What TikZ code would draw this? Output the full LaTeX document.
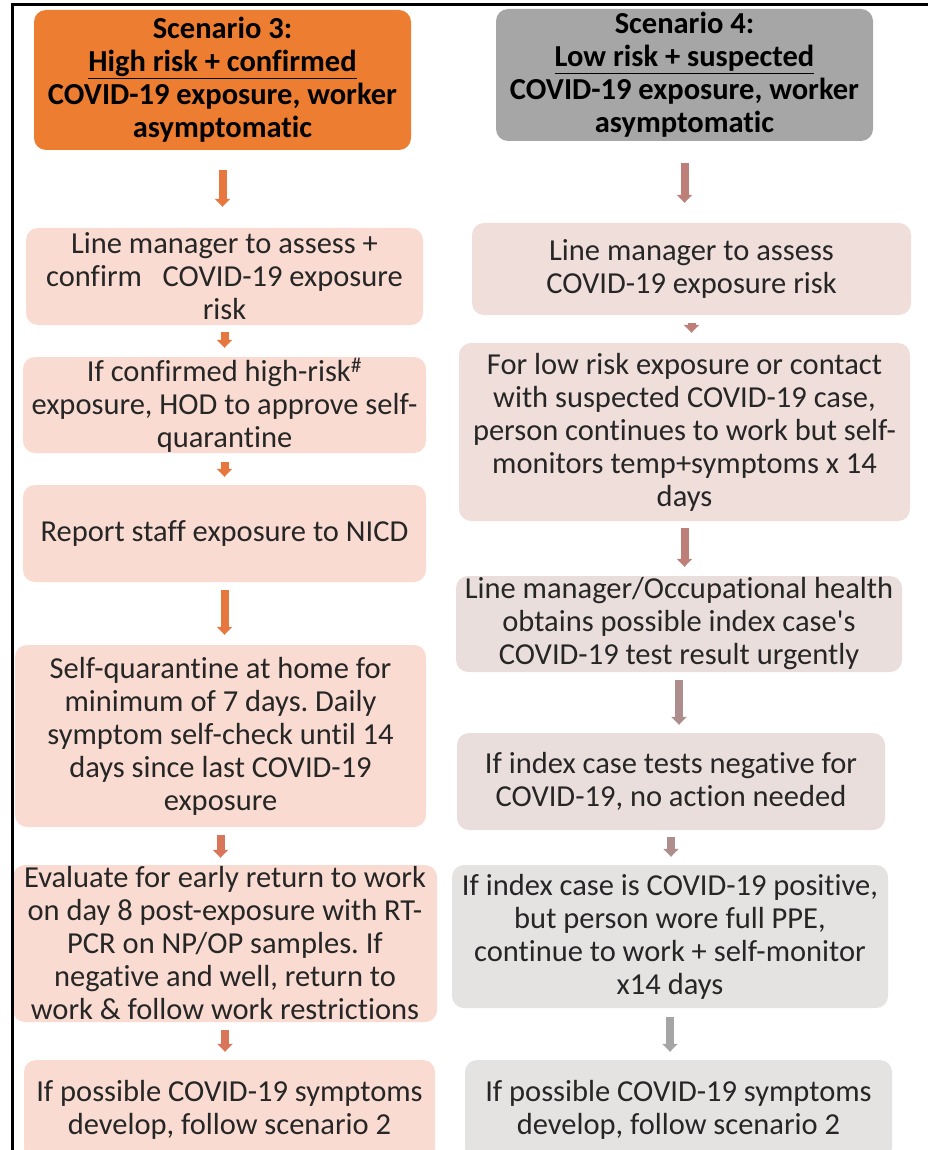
\documentclass[tikz,border=0pt]{standalone}
\usepackage{fontspec}
\setmainfont{Carlito}[Ligatures={NoCommon}]
\usetikzlibrary{arrows.meta}
\frenchspacing

\definecolor{hdrorange}{HTML}{ED7D31}
\definecolor{hdrgray}{HTML}{A6A6A6}
\definecolor{boxpink}{HTML}{F9DBD1}
\definecolor{boxrose}{HTML}{EFDEDA}
\definecolor{boxmauve}{HTML}{EADEDD}
\definecolor{boxgray}{HTML}{E5E2E2}
\definecolor{arrorange}{HTML}{E7773E}
\definecolor{arrsalmon}{HTML}{D9765A}
\definecolor{arrrose}{HTML}{BE7F79}
\definecolor{arrmauve}{HTML}{AE8E8D}
\definecolor{arrgray}{HTML}{A5A5A5}
\definecolor{textgray}{HTML}{262626}

\begin{document}
\begin{tikzpicture}[x=1pt,y=-1pt,
	box/.style={rounded corners=12pt, align=center, inner sep=0pt, text=textgray, font=\fontsize{30.5}{33}\selectfont},
	hdr/.style={box, text=black, font=\fontsize{30.5}{33}\selectfont\bfseries},
	flow/.style={line width=8pt, line cap=butt, -{Triangle[length=8pt,width=15pt]}}]
	\useasboundingbox (0,0) rectangle (928,1150);

	% scenario 3
	\node[hdr,fill=hdrorange,minimum width=377pt,minimum height=140pt] (s3)  at (222.5, 80)    {Scenario 3:\\ \underline{High risk + confirmed}\\ COVID-19 exposure, worker\\ asymptomatic};
	\node[box,fill=boxpink,minimum width=397pt,minimum height=97pt]    (s3a) at (224.5, 276.5)  {Line manager to assess +\\ confirm~~~COVID-19 exposure\\ risk};
	\node[box,fill=boxpink,minimum width=403pt,minimum height=96pt]    (s3b) at (224.5, 405)    {If confirmed high-risk\textsuperscript{\#}\\ exposure, HOD to approve self-\\ quarantine};
	\node[box,fill=boxpink,minimum width=403pt,minimum height=97pt]    (s3c) at (224.5, 533.5)  {Report staff exposure to NICD};
	\node[box,fill=boxpink,minimum width=411pt,minimum height=182pt]   (s3d) at (220.5, 736)    {Self-quarantine at home for\\ minimum of 7 days. Daily\\ symptom self-check until 14\\ days since last COVID-19\\ exposure};
	\node[box,fill=boxpink,minimum width=424pt,minimum height=157pt]   (s3e) at (225, 943.5)    {Evaluate for early return to work\\ on day 8 post-exposure with RT-\\ PCR on NP/OP samples. If\\ negative and well, return to\\ work \& follow work restrictions};
	\node[box,fill=boxpink,minimum width=411pt,minimum height=100pt]   (s3f) at (229.5, 1110)   {If possible COVID-19 symptoms\\ develop, follow scenario 2};

	% scenario 4
	\node[hdr,fill=hdrgray,minimum width=377pt,minimum height=132pt]   (s4)  at (684.5, 75)     {Scenario 4:\\ \underline{Low risk + suspected}\\ COVID-19 exposure, worker\\ asymptomatic};
	\node[box,fill=boxrose,minimum width=439pt,minimum height=92pt]    (s4a) at (691.5, 269)    {Line manager to assess\\ COVID-19 exposure risk};
	\node[box,fill=boxrose,minimum width=451pt,minimum height=178pt]   (s4b) at (684.5, 432)    {For low risk exposure or contact\\ with suspected COVID-19 case,\\ person continues to work but self-\\ monitors temp+symptoms x 14\\ days};
	\node[box,fill=boxmauve,minimum width=446pt,minimum height=96pt]   (s4c) at (679, 624)      {Line manager/Occupational health\\ obtains possible index case\textquotesingle s\\ COVID-19 test result urgently};
	\node[box,fill=boxmauve,minimum width=428pt,minimum height=97pt]   (s4d) at (671, 781.5)    {If index case tests negative for\\ COVID-19, no action needed};
	\node[box,fill=boxgray,minimum width=436pt,minimum height=143pt]   (s4e) at (670, 936.5)    {If index case is COVID-19 positive,\\ but person wore full PPE,\\ continue to work + self-monitor\\ x14 days};
	\node[box,fill=boxgray,minimum width=427pt,minimum height=100pt]   (s4f) at (678.5, 1110)   {If possible COVID-19 symptoms\\ develop, follow scenario 2};

	\draw[flow,arrorange,shorten <=20pt,shorten >=21pt] (s3.south)  -- (s3.south |- s3a.north);
	\draw[flow,arrorange,shorten <=7pt,shorten >=9pt]   (s3a.south) -- (s3a.south |- s3b.north);
	\draw[flow,arrorange,shorten <=9pt,shorten >=8pt]   (s3b.south) -- (s3b.south |- s3c.north);
	\draw[flow,arrorange,shorten <=8pt,shorten >=10pt]  (s3c.south) -- (s3c.south |- s3d.north);
	\draw[flow,arrsalmon,shorten <=8pt,shorten >=7pt]   (s3d.south) -- (s3d.south |- s3e.north);
	\draw[flow,arrsalmon,shorten <=8pt,shorten >=8pt]   (s3e.south) -- (s3e.south |- s3f.north);

	\draw[flow,arrrose,shorten <=22pt,shorten >=20pt]   (s4.south)  -- (s4.south |- s4a.north);
	\draw[flow,arrrose,shorten <=8pt,shorten >=10pt]    (s4a.south) -- (s4a.south |- s4b.north);
	\draw[flow,arrrose,shorten <=7pt,shorten >=9pt]     (s4b.south) -- (s4b.south |- s4c.north);
	\draw[flow,arrmauve,shorten <=8pt,shorten >=8pt]    (s4c.south) -- (s4c.south |- s4d.north);
	\draw[flow,arrmauve,shorten <=7pt,shorten >=8pt]    (s4d.south) -- (s4d.south |- s4e.north);
	\draw[flow,arrgray,shorten <=9pt,shorten >=8pt]     (s4e.south) -- (s4e.south |- s4f.north);

	% frame
	\draw[line width=3pt] (12,1150) -- (12,5) -- (928,5);
\end{tikzpicture}
\end{document}
